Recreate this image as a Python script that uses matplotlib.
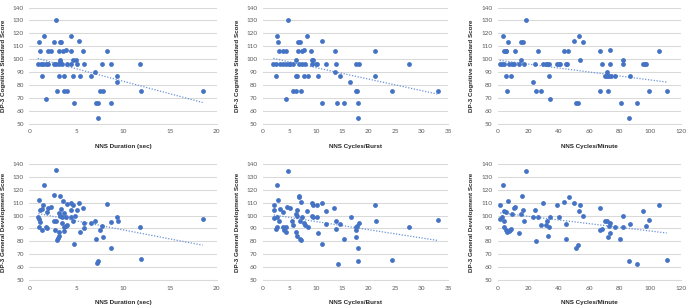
import numpy as np
import matplotlib
matplotlib.use("Agg")
import matplotlib.pyplot as plt

plt.rcParams['font.family'] = ['Lato', 'DejaVu Sans']

# ---------------- Data ----------------
# Panel 1: Cognitive vs NNS Duration (sec)
p1_x = [2.85, 1.6, 4.4, 5.3, 1.0, 2.65, 3.3, 3.4, 3.95,
        1.1, 1.95, 2.3, 3.2, 3.55, 4.4, 5.7, 8.25,
        3.3, 4.7, 5.0, 3.3,
        0.9, 1.2, 1.5, 1.8, 2.0, 2.65, 2.9, 3.2, 3.5, 4.0, 4.45, 5.05, 5.85, 7.8, 8.7, 11.8,
        7.05,
        1.4, 3.2, 3.7, 4.65, 5.4, 6.6, 9.4,
        9.4,
        3.0, 3.7, 4.0, 7.5, 7.9, 11.9, 18.5,
        1.8,
        4.75, 7.1, 7.3, 8.7,
        7.35]
p1_y = [130, 118, 118, 114, 113, 113, 113, 113, 107,
        106, 106, 106, 106, 106, 106, 106, 106,
        99, 99, 99, 98,
        96, 96, 96, 96, 96, 96, 96, 96, 96, 96, 96, 96, 96, 96, 96, 96,
        90,
        87, 87, 87, 87, 87, 87, 87,
        82,
        75, 75, 75, 75, 75, 75, 75,
        69,
        66, 66, 66, 66,
        54]

# Panel 2: Cognitive vs NNS Cycles/Burst
p2_x = [2.0, 2.6, 3.2, 3.8, 4.3, 5.0, 2.5, 2.7, 2.8, 3.0, 3.8, 4.4, 4.7, 4.3,
        5.2, 5.7, 5.8, 6.2, 6.2, 6.4, 6.3, 6.6, 7.0, 6.7, 7.4, 6.9, 7.4, 8.0,
        7.2, 7.8, 7.8, 8.4, 8.6, 9.2, 9.3, 9.5, 9.3, 10.1, 10.3, 10.4, 11.1, 11.1,
        12.0, 13.6, 13.7, 13.9, 14.0, 14.6, 15.3, 16.5, 17.5, 17.7, 17.6, 18.1,
        17.9, 17.9, 21.2, 21.2, 27.5, 24.3, 33.0]
p2_y = [96, 96, 96, 96, 96, 96, 87, 118, 113, 106, 106, 106, 130, 69,
        96, 96, 75, 75, 87, 87, 99, 113, 113, 106, 106, 96, 96, 96,
        75, 107, 87, 118, 87, 106, 99, 99, 96, 96, 96, 87, 114, 66,
        96, 106, 90, 96, 66, 87, 66, 82, 75, 75, 96, 96,
        66, 54, 106, 87, 96, 75, 75]

# Panel 3: Cognitive vs NNS Cycles/Minute
p3_x = [1.3, 3.1, 4.4, 3.5, 3.9, 5.2, 5.7, 5.7, 6.1, 6.8, 7.7, 9.4, 10.9, 9.0,
        11.4, 14.0, 15.1, 15.5, 16.6, 17.3, 18.4, 23.0, 24.3, 25.4, 26.4, 28.4,
        29.5, 31.5, 32.6, 33.9, 33.4, 34.1, 38.7, 40.4, 40.9, 43.5, 44.8, 45.2,
        46.3, 50.3, 51.6, 52.7, 53.6, 54.2, 56.2, 66.9, 66.9, 68.2, 70.6, 71.7,
        73.2, 74.1, 71.5, 72.1, 73.4, 73.9, 76.7, 80.7, 82.4, 82.4, 86.1, 87.0,
        91.4, 95.5, 96.6, 97.5, 99.2, 105.8, 110.8]
p3_y = [96, 96, 96, 118, 106, 106, 106, 87, 75, 113, 96, 96, 96, 87,
        106, 96, 99, 113, 113, 96, 130, 82, 96, 75, 106, 75,
        96, 96, 96, 96, 87, 69, 96, 96, 96, 106, 96, 96,
        106, 114, 66, 66, 118, 99, 113, 106, 75, 96, 87, 87,
        87, 87, 90, 75, 107, 96, 87, 66, 99, 96, 54, 87,
        66, 96, 96, 96, 75, 106, 75]

# Panel 4: General Development vs NNS Duration (sec)
p4_x = [0.96, 1.03, 1.07, 1.0, 1.17, 1.17, 1.4, 1.6, 1.5, 1.4, 1.8, 1.9, 1.9,
        2.0, 2.3, 2.6, 2.6, 2.7, 2.85, 2.9, 3.0, 3.1, 3.2, 3.2, 3.3, 3.2, 3.3,
        3.4, 3.45, 3.5, 3.6, 3.7, 3.7, 3.7, 3.9, 3.9, 4.0, 4.05, 4.4, 4.45,
        4.5, 4.65, 4.7, 4.8, 4.9, 5.05, 5.3, 5.4, 5.7, 5.85, 5.85, 6.6, 7.05,
        7.1, 7.2, 7.35, 7.5, 7.8, 7.9, 8.25, 8.7, 8.7, 9.4, 9.45, 11.8, 11.9, 18.5]
p4_y = [99, 112, 97, 91, 95, 104, 105, 124, 108, 89, 91, 90, 103,
        106, 107, 116, 96, 89, 135, 96, 81, 82.5, 87, 84, 115, 102, 100,
        105, 94, 99, 111, 102, 88, 91, 99, 92, 109, 93, 104, 99,
        110, 96, 108, 78, 100, 104, 110, 87, 106, 90, 94, 94, 96,
        82, 63, 65, 89, 92, 83, 109, 95, 75, 99, 96, 91, 66, 97]

# Panel 5: General Development vs NNS Cycles/Burst
p5_x = [2.2, 2.1, 2.1, 2.7, 2.7, 2.8, 3.0, 2.5, 2.7, 3.3, 3.8, 3.8, 4.0, 4.3,
        4.3, 4.7, 4.5, 5.2, 5.5, 5.8, 6.2, 6.4, 6.3, 6.4, 6.5, 6.8, 6.9, 7.0,
        7.0, 7.2, 7.3, 7.5, 7.7, 7.9, 8.3, 8.5, 9.3, 9.3, 9.4, 9.5, 10.2,
        10.25, 10.4, 11.1, 11.1, 12.0, 12.0, 13.5, 13.8, 13.9, 14.2, 14.6,
        15.3, 16.6, 17.5, 17.5, 17.6, 17.7, 17.9, 17.9, 18.1, 21.2, 21.3,
        24.4, 27.5, 33.0]
p5_y = [108, 104, 98, 123.5, 99, 112, 95.5, 89.5, 91, 105, 102.5, 91, 89, 91,
        87, 134.5, 106.5, 105.5, 95.5, 93, 87.5, 84, 101.5, 100, 104.5, 115.5, 114.5, 95.5,
        81.5, 81, 110.5, 98.5, 94.5, 93, 103.5, 91, 109.5, 100, 108, 98.5, 108.5,
        98.5, 86.5, 109.5, 78, 103.5, 93.5, 105.5, 95.5, 89.5, 62.5, 93.5,
        81.5, 98.5, 88.5, 91, 83, 92, 75, 64.5, 94.5, 108.5, 95.5,
        65.5, 91, 96.5]

# Panel 6: General Development vs NNS Cycles/Minute
p6_x = [1.7, 1.7, 3.1, 3.5, 3.9, 3.9, 4.4, 5.2, 5.7, 6.1, 6.8, 7.2, 8.1, 8.7,
        9.2, 10.7, 11.4, 14.2, 15.1, 15.7, 16.4, 17.3, 18.4, 23.0, 24.3, 25.4,
        26.4, 28.4, 29.9, 31.5, 32.1, 33.2, 33.9, 34.1, 39.1, 40.4, 43.7, 44.6,
        45.0, 46.6, 50.3, 51.6, 52.7, 53.6, 54.2, 56.2, 66.9, 67.3, 68.6, 70.6,
        71.7, 72.3, 73.2, 73.9, 73.9, 76.9, 80.4, 82.4, 82.4, 86.1, 87.0, 91.4,
        95.5, 97.3, 99.2, 105.8, 110.8]
p6_y = [108, 97.5, 98.5, 123.5, 103.5, 91, 95.5, 103, 88.5, 87.5, 111.5, 88, 88.5, 89.5,
        101.5, 105.5, 106.5, 86.5, 101.5, 115.5, 104.5, 95.5, 134.5, 98.5, 104.5, 80.5,
        98.5, 93, 109.5, 93, 95.5, 84, 91, 98.5, 108.5, 98.5, 110.5, 93.5,
        81.5, 114.5, 109.5, 75, 77.5, 103.5, 108, 100, 88.5, 105.5, 89.5, 95.5,
        95.5, 83, 92, 86.5, 94.5, 91, 81.5, 100, 91, 64.5, 93.5, 62.5,
        103.5, 92, 96.5, 108.5, 65.5]

# Linear trendlines: (slope, intercept) per panel
trend_slope = [-1.94, -0.894, -0.154, -1.40, -0.64, -0.143]
trend_intercept = [102.2, 102.3, 99.2, 102.9, 101.8, 102.3]

x_labels = ["NNS Duration (sec)", "NNS Cycles/Burst", "NNS Cycles/Minute"]
y_labels = ["DP-3 Cognitive Standard Score", "DP-3 General Development Score"]
x_ticks = [[0, 5, 10, 15, 20], [0, 5, 10, 15, 20, 25, 30, 35],
           [0, 20, 40, 60, 80, 100, 120]]
y_ticks = [50, 60, 70, 80, 90, 100, 110, 120, 130, 140]

panels = [[(p1_x, p1_y), (p2_x, p2_y), (p3_x, p3_y)],
          [(p4_x, p4_y), (p5_x, p5_y), (p6_x, p6_y)]]

# ---------------- Layout ----------------
W, H = 688, 308
fig = plt.figure(figsize=(W / 100, H / 100), dpi=100)

lefts = [29.3, 262.7, 497.7]
widths = [187.4, 185.6, 183.0]
tops = [7.5, 164.0]
height = 116.0
ylab_x = [6.0, 240.5, 474.5]

blue = "#4472C4"
grid_c = "#D9D9D9"
tick_c = "#595959"
label_font = ['Liberation Sans', 'DejaVu Sans']

for r in range(2):
    for c in range(3):
        i = r * 3 + c
        xs, ys = panels[r][c]
        ax = fig.add_axes([lefts[c] / W, 1 - (tops[r] + height) / H,
                           widths[c] / W, height / H])
        ax.scatter(xs, ys, s=12, color=blue, linewidths=0, zorder=3)
        xa = np.asarray(xs, float)
        xx = np.array([xa.min(), xa.max()])
        ax.plot(xx, trend_slope[i] * xx + trend_intercept[i], color="#6A93D8",
                lw=0.9, linestyle=(0, (1, 1.3)), zorder=2)

        ax.set_xlim(x_ticks[c][0], x_ticks[c][-1])
        ax.set_ylim(50, 140)
        ax.set_xticks(x_ticks[c])
        ax.set_yticks(y_ticks)
        ax.grid(axis="y", color=grid_c, lw=0.75)
        ax.set_axisbelow(True)
        for s in ["top", "right", "left"]:
            ax.spines[s].set_visible(False)
        ax.spines["bottom"].set_color(grid_c)
        ax.spines["bottom"].set_linewidth(0.75)
        ax.tick_params(length=0, labelsize=4.6, colors=tick_c)
        ax.tick_params(axis="y", pad=4)
        ax.tick_params(axis="x", pad=4)

        ax.set_xlabel(x_labels[c], fontsize=4.5, fontweight="bold",
                      color="#262626", family=label_font)
        ax.xaxis.set_label_coords(0.5, -0.175)
        ax.set_ylabel(y_labels[r], fontsize=4.5, fontweight="bold",
                      color="#262626", family=label_font)
        ax.yaxis.set_label_coords(-(lefts[c] - ylab_x[c]) / widths[c], 0.5)

fig.savefig("out.png", dpi=100)
